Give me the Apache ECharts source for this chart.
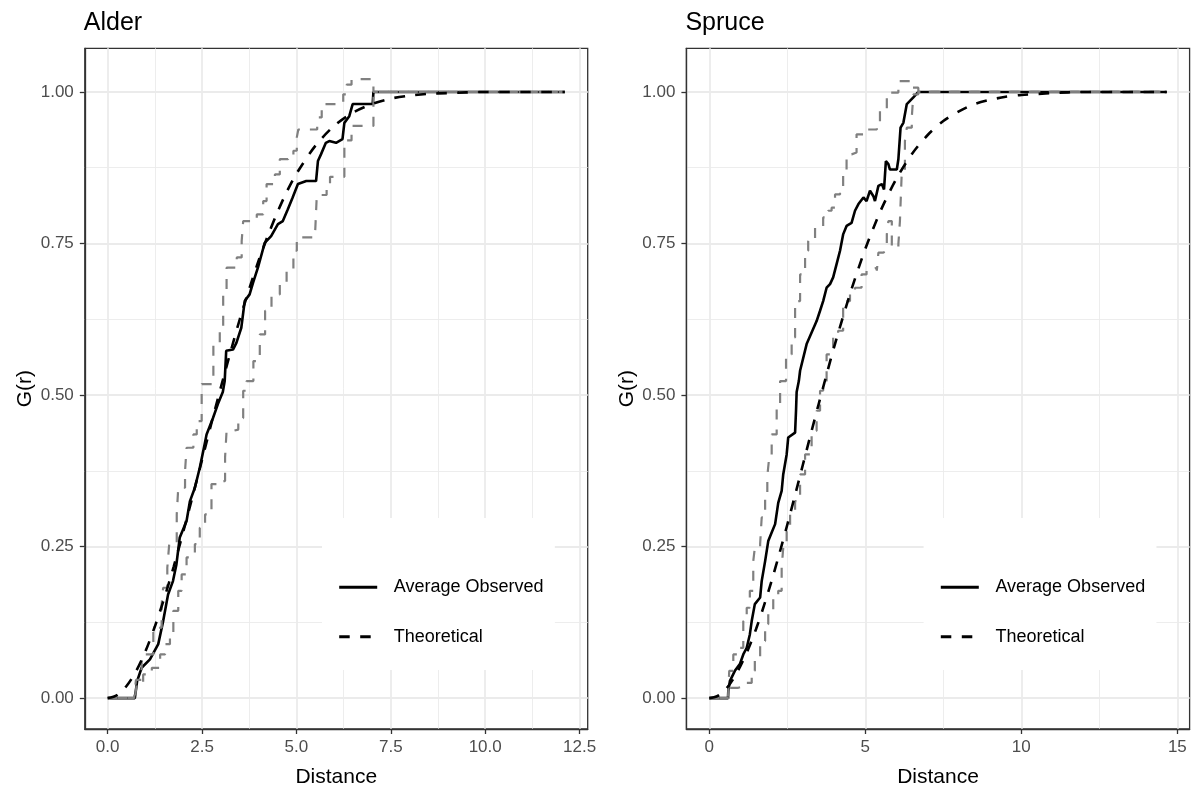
<!DOCTYPE html>
<html><head><meta charset="utf-8">
<script src="https://cdn.jsdelivr.net/npm/echarts@6.0.0/dist/echarts.min.js"></script>
<style>html,body{margin:0;padding:0;background:#fff}#c{width:1198px;height:787px}</style>
</head><body><div id="c"></div>
<script>
// ---------- data ----------
const panelTitles = ['Alder', 'Spruce'];
const legendNames = ['Average Observed', 'Theoretical'];
const xTicksAlder = [0, 2.5, 5, 7.5, 10, 12.5];
const xMinorAlder = [1.25, 3.75, 6.25, 8.75, 11.25];
const xTicksSpruce = [0, 5, 10, 15];
const xMinorSpruce = [2.5, 7.5, 12.5];
const yTicks = [0, 0.25, 0.5, 0.75, 1];
const yMinor = [0.125, 0.375, 0.625, 0.875];

const alderObserved = [[0,0],[0.72,0],[0.78,0.028],[0.90,0.050],[1.12,0.064],[1.34,0.089],[1.47,0.127],[1.60,0.171],[1.73,0.193],[1.82,0.220],[1.91,0.265],[2.09,0.292],[2.18,0.325],[2.31,0.347],[2.44,0.380],[2.57,0.419],[2.62,0.435],[2.79,0.462],[2.92,0.485],[3.05,0.505],[3.10,0.523],[3.14,0.573],[3.32,0.575],[3.41,0.586],[3.54,0.611],[3.63,0.655],[3.76,0.666],[3.85,0.685],[3.98,0.710],[4.16,0.751],[4.33,0.762],[4.51,0.782],[4.64,0.787],[4.77,0.806],[4.90,0.826],[5.04,0.848],[5.26,0.853],[5.52,0.853],[5.57,0.886],[5.65,0.897],[5.78,0.916],[5.87,0.919],[6.05,0.916],[6.22,0.922],[6.27,0.949],[6.40,0.960],[6.49,0.980],[7.02,0.980],[7.04,1.0],[12.11,1.0]];
const alderTheoretical = [[0,0],[0.25,0.005],[0.5,0.020],[0.75,0.044],[1,0.077],[1.25,0.118],[1.5,0.165],[1.75,0.217],[2,0.274],[2.25,0.333],[2.5,0.393],[2.75,0.454],[3,0.513],[3.25,0.570],[3.5,0.625],[3.75,0.675],[4,0.722],[4.25,0.764],[4.5,0.802],[4.75,0.836],[5,0.865],[5.5,0.911],[6,0.944],[6.5,0.966],[7,0.980],[7.5,0.989],[8,0.994],[8.5,0.997],[9,0.998],[10,1.0],[11,1.0],[12.11,1.0]];
const alderUpper = [[0,0],[0.70,0],[0.75,0.030],[0.90,0.072],[1.21,0.116],[1.43,0.155],[1.47,0.182],[1.58,0.215],[1.63,0.254],[1.83,0.303],[1.87,0.347],[2.05,0.375],[2.09,0.413],[2.27,0.435],[2.36,0.457],[2.49,0.518],[2.80,0.584],[2.97,0.611],[3.06,0.666],[3.15,0.710],[3.42,0.727],[3.55,0.754],[3.59,0.787],[3.95,0.798],[4.12,0.820],[4.21,0.848],[4.43,0.864],[4.56,0.889],[4.78,0.894],[4.92,0.903],[5.01,0.925],[5.05,0.938],[5.55,0.944],[5.58,0.958],[5.67,0.980],[6.24,0.996],[6.33,1.012],[6.46,1.021],[7.04,1.0],[12.11,1.0]];
const alderLower = [[0,0],[0.72,0],[0.77,0.023],[0.94,0.039],[1.17,0.050],[1.39,0.072],[1.52,0.089],[1.65,0.105],[1.74,0.144],[1.87,0.177],[1.96,0.204],[2.09,0.232],[2.23,0.234],[2.31,0.254],[2.44,0.281],[2.58,0.303],[2.75,0.353],[3.02,0.358],[3.11,0.397],[3.15,0.441],[3.33,0.443],[3.46,0.462],[3.59,0.507],[3.68,0.523],[3.86,0.556],[4.03,0.600],[4.17,0.639],[4.34,0.666],[4.56,0.683],[4.74,0.705],[4.92,0.738],[5.01,0.760],[5.49,0.762],[5.54,0.830],[5.80,0.845],[5.89,0.860],[6.27,0.920],[6.46,0.944],[7.04,1.0],[12.11,1.0]];

const spruceObserved = [[0,0],[0.60,0],[0.61,0.012],[0.66,0.028],[0.82,0.045],[0.98,0.056],[1.09,0.072],[1.20,0.083],[1.30,0.105],[1.36,0.127],[1.46,0.155],[1.63,0.166],[1.68,0.193],[1.79,0.226],[1.89,0.259],[2.00,0.273],[2.11,0.287],[2.21,0.322],[2.32,0.342],[2.37,0.369],[2.48,0.402],[2.53,0.430],[2.75,0.438],[2.78,0.474],[2.80,0.505],[2.87,0.523],[2.91,0.540],[3.12,0.584],[3.28,0.603],[3.44,0.622],[3.55,0.639],[3.65,0.655],[3.76,0.677],[3.87,0.683],[3.97,0.694],[4.08,0.716],[4.19,0.738],[4.29,0.765],[4.40,0.779],[4.56,0.784],[4.67,0.804],[4.78,0.815],[4.94,0.826],[5.04,0.820],[5.15,0.837],[5.26,0.828],[5.31,0.820],[5.42,0.845],[5.53,0.848],[5.60,0.839],[5.66,0.886],[5.74,0.881],[5.79,0.872],[6.01,0.872],[6.06,0.889],[6.13,0.941],[6.22,0.949],[6.33,0.980],[6.54,0.991],[6.70,1.0],[14.66,1.0]];
const spruceTheoretical = [[0,0],[0.25,0.003],[0.5,0.013],[0.75,0.030],[1,0.053],[1.25,0.081],[1.5,0.114],[1.75,0.152],[2,0.194],[2.25,0.239],[2.5,0.286],[2.75,0.335],[3,0.385],[3.25,0.435],[3.5,0.484],[3.75,0.532],[4,0.579],[4.5,0.665],[5,0.741],[5.5,0.805],[6,0.857],[6.5,0.898],[7,0.929],[7.5,0.952],[8,0.968],[8.5,0.980],[9,0.987],[9.5,0.992],[10,0.995],[11,0.998],[12,1.0],[13,1.0],[14.66,1.0]];
const spruceUpper = [[0,0],[0.60,0],[0.64,0.045],[0.77,0.072],[0.93,0.083],[1.09,0.127],[1.20,0.149],[1.30,0.177],[1.41,0.226],[1.46,0.248],[1.63,0.254],[1.68,0.298],[1.79,0.330],[1.86,0.366],[1.92,0.397],[2.00,0.435],[2.16,0.479],[2.27,0.523],[2.46,0.567],[2.64,0.595],[2.75,0.655],[2.91,0.699],[3.07,0.738],[3.17,0.754],[3.39,0.776],[3.65,0.793],[3.81,0.804],[3.92,0.809],[4.03,0.831],[4.19,0.842],[4.29,0.870],[4.40,0.897],[4.56,0.900],[4.72,0.930],[5.04,0.938],[5.37,0.949],[5.47,0.969],[5.69,0.999],[6.06,1.018],[6.43,1.007],[6.70,1.0],[14.66,1.0]];
const spruceLower = [[0,0],[0.62,0],[0.66,0.017],[0.93,0.020],[1.14,0.025],[1.36,0.045],[1.46,0.067],[1.63,0.094],[1.79,0.122],[1.89,0.144],[2.05,0.166],[2.21,0.177],[2.32,0.215],[2.37,0.248],[2.48,0.281],[2.59,0.303],[2.75,0.325],[2.91,0.369],[3.07,0.402],[3.28,0.441],[3.44,0.474],[3.55,0.507],[3.65,0.523],[3.76,0.567],[3.97,0.595],[4.13,0.606],[4.29,0.655],[4.51,0.672],[4.67,0.677],[4.88,0.699],[5.04,0.707],[5.21,0.710],[5.37,0.705],[5.42,0.735],[5.58,0.738],[5.69,0.765],[5.74,0.787],[5.85,0.743],[6.06,0.749],[6.11,0.787],[6.17,0.870],[6.27,0.919],[6.33,0.941],[6.49,0.958],[6.54,0.996],[6.70,1.0],[14.66,1.0]];

// ---------- styling / layout ----------
const FONT = '"Liberation Sans", Arial, sans-serif';
const MAJOR = '#ebebeb';
const panels = [
  {grid: {left: 84.8, top: 48.3, width: 502.9, height: 680.7}, xmin: -0.6055, xmax: 12.7155,
   ticks: xTicksAlder, minor: xMinorAlder, fmt: v => v.toFixed(1),
   obs: alderObserved, theo: alderTheoretical, up: alderUpper, lo: alderLower, legendLeft: 322},
  {grid: {left: 686.4, top: 48.3, width: 503.2, height: 680.7}, xmin: -0.733, xmax: 15.393,
   ticks: xTicksSpruce, minor: xMinorSpruce, fmt: v => String(v),
   obs: spruceObserved, theo: spruceTheoretical, up: spruceUpper, lo: spruceLower, legendLeft: 923.6}
];
const ymin = -0.051, ymax = 1.072;

const option = {
  animation: false,
  backgroundColor: '#fff',
  textStyle: {fontFamily: FONT},
  title: [], grid: [], xAxis: [], yAxis: [], legend: [], series: []
};

panels.forEach((p, i) => {
  option.title.push({text: panelTitles[i], left: p.grid.left - 1, top: 11, padding: 0,
    textStyle: {fontSize: 25, fontWeight: 'normal', color: '#000', fontFamily: FONT}});
  option.grid.push(Object.assign({show: true, borderColor: '#333', borderWidth: 1.3,
    backgroundColor: 'transparent', containLabel: false, outerBoundsMode: 'none'}, p.grid));
  option.xAxis.push({type: 'value', gridIndex: i, min: p.xmin, max: p.xmax, position: 'bottom',
    name: 'Distance', nameLocation: 'middle', nameGap: 38,
    nameTextStyle: {fontSize: 21, color: '#000', fontFamily: FONT},
    axisLine: {show: true, onZero: false, lineStyle: {color: '#333', width: 1.3}},
    axisTick: {show: true, length: 5, customValues: p.ticks, lineStyle: {color: '#333', width: 1.3}},
    axisLabel: {customValues: p.ticks, formatter: p.fmt, fontSize: 17, color: '#4d4d4d', margin: 10, fontFamily: FONT},
    splitLine: {show: true, lineStyle: {color: MAJOR, width: 1.8}}, z: 1});
  option.xAxis.push({type: 'value', gridIndex: i, min: p.xmin, max: p.xmax, position: 'top',
    axisLine: {show: false}, axisTick: {show: false, customValues: p.minor},
    axisLabel: {show: false, customValues: p.minor},
    splitLine: {show: true, lineStyle: {color: MAJOR, width: 0.9}}, z: 0});
  option.yAxis.push({type: 'value', gridIndex: i, min: ymin, max: ymax, position: 'left',
    name: 'G(r)', nameLocation: 'middle', nameGap: 49, nameRotate: 90,
    nameTextStyle: {fontSize: 21, color: '#000', fontFamily: FONT},
    axisLine: {show: true, onZero: false, lineStyle: {color: '#333', width: 1.3}},
    axisTick: {show: true, length: 5, customValues: yTicks, lineStyle: {color: '#333', width: 1.3}},
    axisLabel: {customValues: yTicks, formatter: v => v.toFixed(2), fontSize: 17, color: '#4d4d4d', margin: 11, fontFamily: FONT},
    splitLine: {show: true, lineStyle: {color: MAJOR, width: 1.8}}, z: 1});
  option.yAxis.push({type: 'value', gridIndex: i, min: ymin, max: ymax, position: 'right',
    axisLine: {show: false}, axisTick: {show: false, customValues: yMinor},
    axisLabel: {show: false, customValues: yMinor},
    splitLine: {show: true, lineStyle: {color: MAJOR, width: 0.9}}, z: 0});

  const xi = i * 2, yi = i * 2;
  const gray = {color: '#808080', width: 2.2, type: [10, 10]};
  option.series.push(
    {name: legendNames[0], type: 'line', xAxisIndex: xi, yAxisIndex: yi, data: p.obs,
     symbol: 'none', lineStyle: {color: '#000', width: 2.6, type: 'solid'}, itemStyle: {color: '#000'}, z: 2},
    {name: 'Upper envelope', type: 'line', xAxisIndex: xi, yAxisIndex: yi, data: p.up, step: 'end',
     symbol: 'none', lineStyle: gray, itemStyle: {color: '#808080'}, z: 3},
    {name: 'Lower envelope', type: 'line', xAxisIndex: xi, yAxisIndex: yi, data: p.lo, step: 'end',
     symbol: 'none', lineStyle: Object.assign({}, gray, {dashOffset: 10}), itemStyle: {color: '#808080'}, z: 3},
    {name: legendNames[1], type: 'line', xAxisIndex: xi, yAxisIndex: yi, data: p.theo, smooth: 0.3,
     symbol: 'none', lineStyle: {color: '#000', width: 2.6, type: [10.5, 10.5]}, itemStyle: {color: '#000'}, z: 4}
  );

  option.legend.push({data: legendNames, orient: 'vertical', left: p.legendLeft, top: 518,
    itemWidth: 38, itemHeight: 20, itemGap: 29.4, selectedMode: false,
    itemStyle: {opacity: 0}, lineStyle: {width: 3},
    padding: [59.3, 11.3, 23.3, 15.7], backgroundColor: '#fff', z: 10,
    textStyle: {fontSize: 18, color: '#000', lineHeight: 20, padding: [0, 0, 0, 11.6], fontFamily: FONT}});
});

const chart = echarts.init(document.getElementById('c'), null, {renderer: 'canvas'});
chart.setOption(option);
</script>
</body></html>
